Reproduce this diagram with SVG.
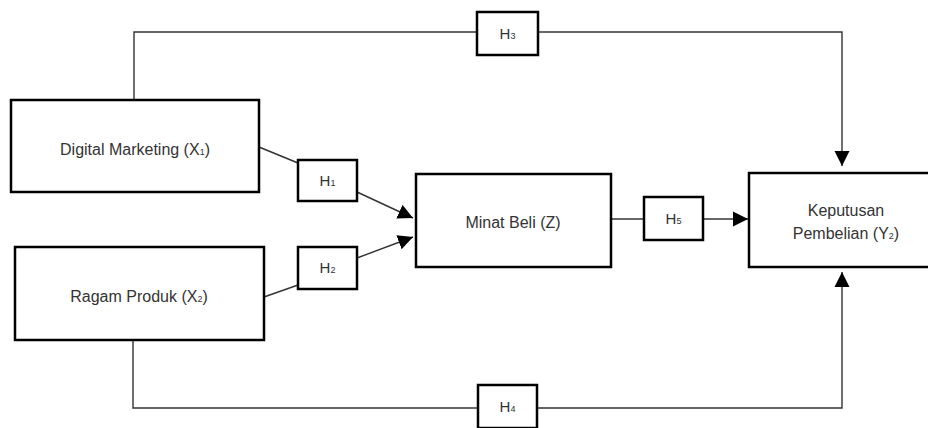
<svg xmlns="http://www.w3.org/2000/svg" width="928" height="428" viewBox="0 0 928 428">
<style>
.box{fill:#fff;stroke:#000;stroke-width:2.5}
.hb{fill:#fff;stroke:#000;stroke-width:2.5}
.ln{fill:none;stroke:#333;stroke-width:1.4}
.t{font-family:"Liberation Sans",Arial,sans-serif;font-size:16px;fill:#333;text-anchor:middle}
.h{font-family:"Liberation Sans",Arial,sans-serif;font-size:15px;fill:#333;text-anchor:middle}
.s{font-size:9px}
</style>
<defs>
<marker id="ah" markerUnits="userSpaceOnUse" markerWidth="16" markerHeight="16" viewBox="0 0 16 16" refX="15" refY="8" orient="auto">
<path d="M0,0.5 L15,8 L0,15.5 Z" fill="#000"/>
</marker>
</defs>
<g id="connectors">
<polyline class="ln" points="134,100 134,32 477,32"/>
<polyline class="ln" points="538,32 842,32 842,166" marker-end="url(#ah)"/>
<polyline class="ln" points="133,340 133,408 478,408"/>
<polyline class="ln" points="537,408 842,408 842,272" marker-end="url(#ah)"/>
<line class="ln" x1="259" y1="147" x2="298" y2="163"/>
<line class="ln" x1="357" y1="192" x2="413" y2="218" marker-end="url(#ah)"/>
<line class="ln" x1="264" y1="297" x2="298" y2="285"/>
<line class="ln" x1="357" y1="258" x2="413" y2="237" marker-end="url(#ah)"/>
<line class="ln" x1="611" y1="219" x2="644" y2="219"/>
<line class="ln" x1="703" y1="219" x2="748" y2="219" marker-end="url(#ah)"/>
</g>
<g id="digital-marketing">
<rect class="box" x="11" y="100" width="248" height="92"/>
<text class="t" x="135" y="155">Digital Marketing (X<tspan class="s">1</tspan>)</text>
</g>
<g id="ragam-produk">
<rect class="box" x="15" y="247" width="249" height="93"/>
<text class="t" x="139" y="302">Ragam Produk (X<tspan class="s">2</tspan>)</text>
</g>
<g id="minat-beli">
<rect class="box" x="416" y="174" width="195" height="93"/>
<text class="t" x="513" y="228">Minat Beli (Z)</text>
</g>
<g id="keputusan-pembelian">
<rect class="box" x="749" y="173" width="182" height="94"/>
<text class="t" x="846" y="216">Keputusan</text>
<text class="t" x="846" y="239">Pembelian  (Y<tspan class="s">2</tspan>)</text>
</g>
<g id="h1">
<rect class="hb" x="298" y="160" width="59" height="41"/>
<text class="h" x="327.5" y="186">H<tspan class="s">1</tspan></text>
</g>
<g id="h2">
<rect class="hb" x="298" y="247" width="59" height="42"/>
<text class="h" x="327.5" y="273">H<tspan class="s">2</tspan></text>
</g>
<g id="h3">
<rect class="hb" x="477" y="12" width="61" height="43"/>
<text class="h" x="507.5" y="39">H<tspan class="s">3</tspan></text>
</g>
<g id="h4">
<rect class="hb" x="478" y="385" width="59" height="43"/>
<text class="h" x="507.5" y="412">H<tspan class="s">4</tspan></text>
</g>
<g id="h5">
<rect class="hb" x="644" y="197" width="59" height="43"/>
<text class="h" x="673.5" y="224">H<tspan class="s">5</tspan></text>
</g>
</svg>
